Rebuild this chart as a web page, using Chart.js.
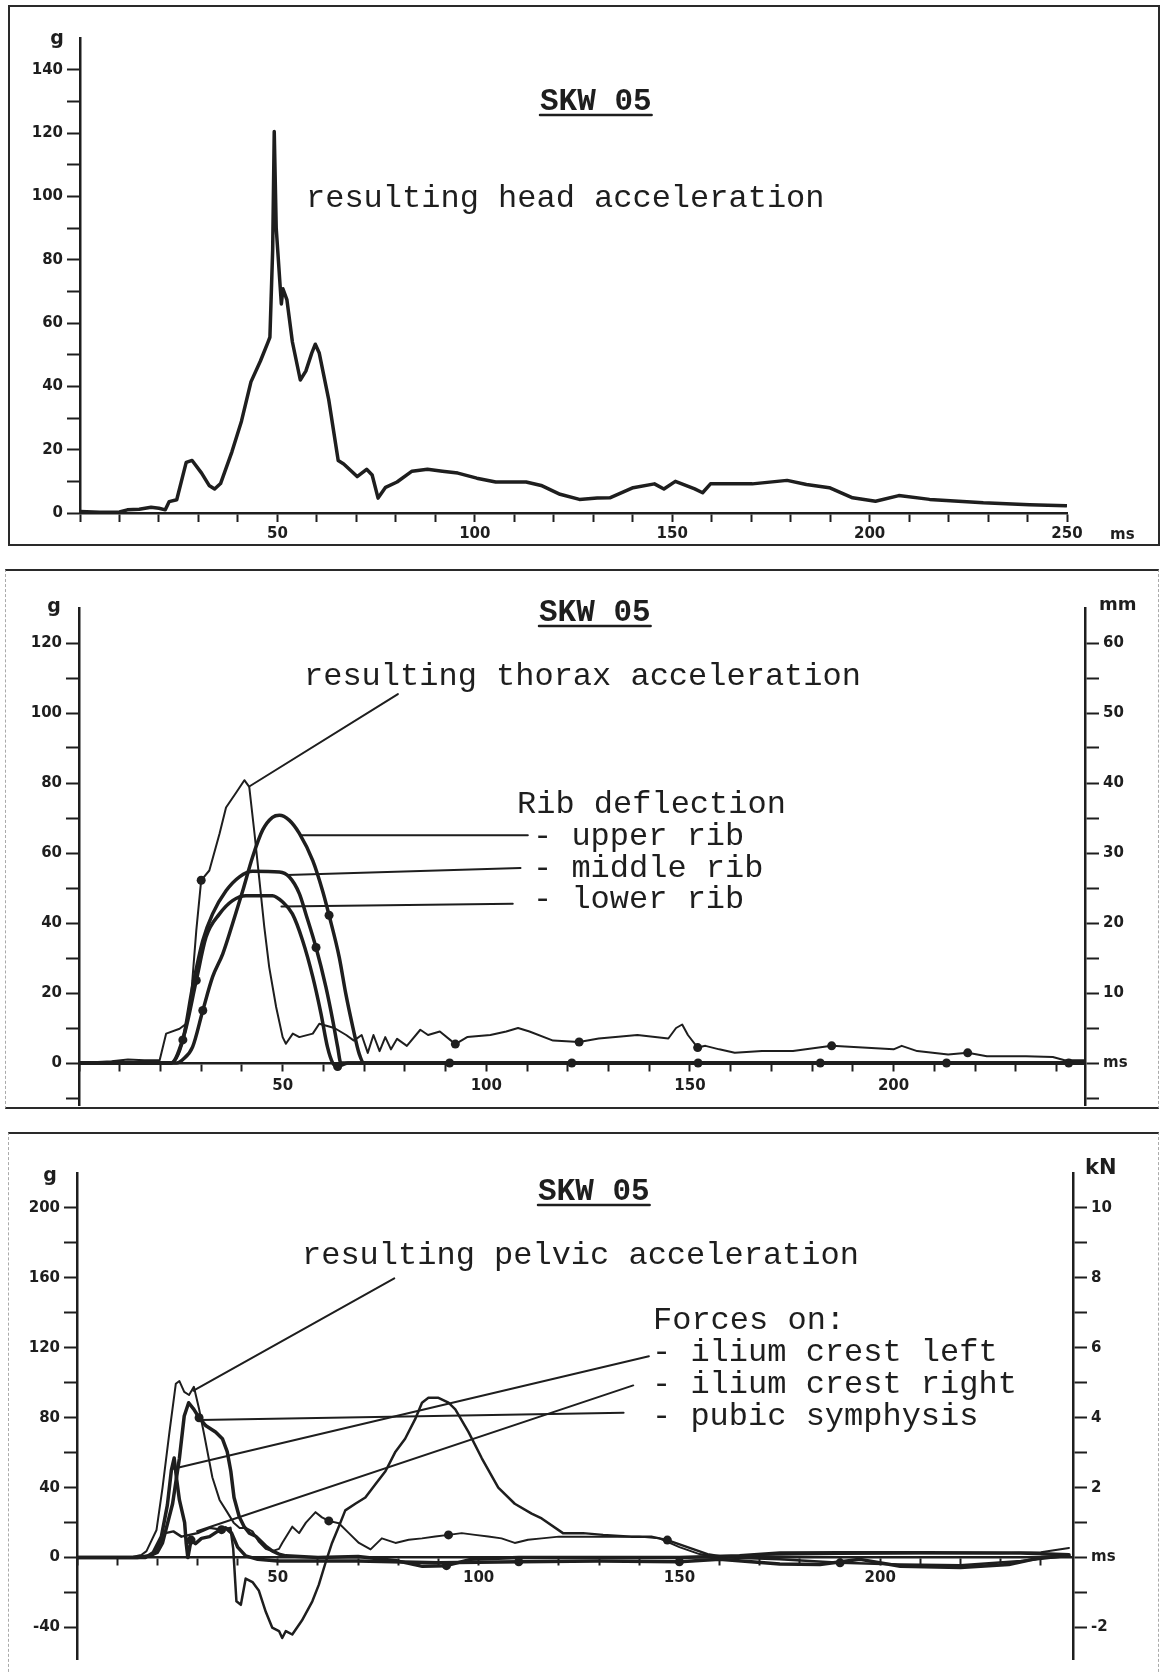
<!DOCTYPE html>
<html>
<head>
<meta charset="utf-8">
<title>SKW 05</title>
<script src="https://cdn.jsdelivr.net/npm/chart.js@4.4.1/dist/chart.umd.min.js"></script>
<style>
  html, body { margin: 0; padding: 0; background: #fff; }
  #page { position: relative; width: 1165px; height: 1672px; overflow: hidden; background: #fff; }
  canvas { position: absolute; left: 0; }
  .frame { position: absolute; box-sizing: border-box; }
</style>
</head>
<body>
<div id="page">
  <div class="frame" style="left:8px;top:5px;width:1152px;height:541px;border:2px solid #2a2a2a;"></div>
  <div class="frame" style="left:5px;top:569px;width:1154px;height:540px;border-top:2px solid #2a2a2a;border-bottom:2px solid #2a2a2a;border-left:1px dashed #aaa;border-right:1px dashed #aaa;"></div>
  <div class="frame" style="left:8px;top:1132px;width:1151px;height:560px;border-top:2px solid #2a2a2a;border-left:1px dashed #aaa;border-right:1px dashed #aaa;"></div>
  <canvas id="head" width="1165" height="560" style="top:0"></canvas>
  <canvas id="thorax" width="1165" height="560" style="top:560px"></canvas>
  <canvas id="pelvis" width="1165" height="552" style="top:1120px"></canvas>
</div>
<script>
// ---- panel 1: resulting head acceleration (ms, g)
var headT = [0, 5, 10, 12, 15, 18, 20, 21.6, 22.6, 24.5, 26.9, 28.4, 30.8, 32.7, 34.1, 35.6, 38.5, 40.9, 43.3, 45.7,
  47.6, 48.1, 48.8, 49.2, 49.7, 51, 51.4, 52.4, 53.8, 55.8, 57.2, 58.7, 59.6, 60.6, 63, 65.4, 66.8, 68.5, 70.2, 72.6,
  74, 75.5, 77.4, 80.3, 84.1, 88, 91.8, 95.7, 100.5, 105.3, 113, 116.8, 121.6, 126.5, 131, 134.2, 140.1, 145.5, 147.9, 150.8,
  155.7, 157.7, 159.7, 170.3, 179.1, 184, 189.8, 195.7, 201.5, 207.4, 215.2, 228.8, 240.5, 249.8];
var headG = [0.5, 0.2, 0.3, 1, 1.2, 1.8, 1.5, 1, 3.6, 4.2, 16, 16.6, 12.6, 8.7, 7.6, 9.3, 19.4, 29, 41.4, 48,
  53.9, 55.5, 83, 120.5, 90, 66, 70.8, 67.4, 54, 42, 44.8, 50.5, 53.3, 50.5, 35.8, 16.6, 15.5, 13.5, 11.5, 13.8,
  12, 4.7, 8.1, 9.8, 13.2, 13.8, 13.2, 12.6, 11, 9.8, 9.8, 8.7, 5.9, 4.3, 4.7, 4.8, 8, 9.2, 7.6, 10,
  7.6, 6.4, 9.2, 9.2, 10.3, 9, 8, 4.8, 3.7, 5.5, 4.3, 3.2, 2.6, 2.3];

// ---- panel 2: resulting thorax acceleration (g) and rib deflection (mm)
var thoraxT = [0, 8, 12, 16, 19.8, 21.4, 24.7, 26.3, 27.5, 28.8, 30, 32, 34.5, 36.1, 38.6, 40.6, 41.8, 43.1, 44.3, 45.5,
  46.7, 48.4, 50, 50.8, 52.5, 54.1, 57.4, 59, 62.7, 65.6, 67.5, 69.4, 70.9, 72.3, 73.8, 75.2, 76.6, 78.1, 80.5, 83.8,
  85.7, 88.6, 92.4, 95.3, 101, 104.9, 107.8, 110.6, 116.4, 122.8, 127.6, 132.4, 137.1, 144.7, 146.6, 148.1, 149.5, 151.9, 153.8, 157.2,
  161, 167.7, 175.3, 184.8, 192.4, 200, 202, 205.8, 213.4, 218.2, 222.9, 232.5, 239.1, 242, 246.7];
var thoraxG = [0, 0.5, 1, 0.8, 0.8, 8.4, 9.8, 11.2, 18.8, 37.9, 52.2, 55, 65.5, 73, 77.3, 80.8, 78.9, 65.5, 52.2, 38.8,
  27.4, 16, 7.4, 5.5, 8.4, 7.4, 8.4, 11.2, 10, 8, 6.4, 8, 2.9, 8, 3.4, 7.4, 3.9, 6.9, 4.9, 9.5,
  8, 9, 5.4, 7.4, 8, 9, 10, 9, 6.4, 6, 7, 7.5, 8, 7, 10, 11, 8, 4.4, 4.9, 3.9,
  2.9, 3.4, 3.4, 4.9, 4.4, 3.9, 4.9, 3.4, 2.4, 2.9, 1.9, 1.9, 1.7, 0.8, 0.8];
var thoraxMarks = [30, 92.4, 122.8, 151.9, 184.8, 218.2];

var upperT = [0, 24, 25.5, 27.9, 30.4, 32.8, 35.3, 37.7, 40.2, 42.6, 45.1, 47.5, 49.2, 51.6, 54.1, 57.4, 59.8, 61.4, 63.9, 65.5,
  67.2, 68.8, 70, 91, 121, 152, 182, 213, 243, 247];
var upperMM = [0, 0, 0.5, 2.3, 7.5, 12.3, 15.6, 19.9, 24.6, 29.4, 33.3, 35.1, 35.4, 34.7, 32.8, 28.9, 24.6, 21.1, 15.1, 9.9,
  5.2, 1.3, 0, 0, 0, 0, 0, 0, 0, 0];
var upperMarks = [30.4, 61.4, 91, 121, 152, 182, 213, 243];

var middleT = [0, 22.6, 25.5, 27.9, 30.4, 32.8, 36.1, 39.4, 42.6, 49.2, 51.6, 54.1, 55.7, 58.2, 60.6, 62.3, 63.5, 64.3, 247];
var middleMM = [0, 0, 3.3, 10.9, 17.5, 21.3, 24.6, 26.6, 27.4, 27.3, 26.6, 24.2, 21.3, 16.5, 10.9, 6.1, 2.3, 0, 0];
var middleMarks = [25.5, 58.2];

var lowerT = [0, 22.6, 25.9, 28.8, 31.2, 34.5, 37.7, 41, 47.5, 50, 52.4, 54.9, 57.4, 59.4, 61, 62.3, 63.5, 66, 247];
var lowerMM = [0, 0, 4.2, 11.8, 18, 21.3, 23.2, 23.9, 23.9, 23, 21.3, 17.5, 12.3, 7.1, 2.3, 0, -0.5, 0, 0];
var lowerMarks = [28.8, 63.5];

// ---- panel 3: resulting pelvic acceleration (g) and forces (kN)
var pelvT = [0, 10, 14, 16, 17.3, 19.8, 21.3, 23, 24.6, 25.5, 26.7, 27.9, 29.1, 30.4, 31.7, 33.7, 35.5, 37.4, 39, 40.5,
  42, 43.7, 45.3, 47, 48.6, 50.3, 51.1, 53.6, 55.3, 57, 59.4, 61, 62.7, 65.2, 67.7, 70.2, 73.1, 75.9, 79.3, 82.6,
  85.9, 89.2, 92.5, 95.8, 99.1, 102.4, 105.7, 109, 112.3, 115.7, 120, 130, 140, 145, 150, 155, 160, 170, 190, 210,
  230, 240, 247];
var pelvG = [0, 0, 0.5, 1.5, 3.7, 15.8, 40, 71.5, 99.4, 101, 94.8, 93, 97.7, 85, 70, 46, 33, 26, 20, 17,
  17, 15, 9, 5, 3.7, 5, 8.4, 17.7, 14, 20, 26, 23, 21, 19.6, 14, 8.4, 4.7, 11, 8.4, 10.2,
  11, 12.1, 13, 14, 13, 12.1, 11, 8.4, 10.2, 11, 12, 12, 12, 11, 6, 2, 0.5, 1.5, 2, 2.5,
  2.5, 3, 5.5];
var pelvMarks = [62.7, 92.5];

var iliumLeftT = [0, 17, 19, 21, 22.5, 23.5, 24.2, 24.8, 25.5, 26.2, 26.8, 27.2, 27.6, 28.4, 29.5, 31, 33, 35, 37, 38.5,
  40, 42, 45, 50, 70, 90, 110, 130, 150, 160, 175, 185, 195, 205, 220, 232, 240, 247];
var iliumLeftKN = [0, 0, 0.15, 0.6, 1.5, 2.5, 2.85, 2.25, 1.65, 1.3, 1, 0.4, 0, 0.5, 0.4, 0.55, 0.6, 0.75, 0.85, 0.7,
  0.3, 0.05, -0.05, -0.1, -0.1, -0.15, -0.12, -0.1, -0.12, -0.05, -0.18, -0.2, -0.05, -0.25, -0.28, -0.2, 0, 0.05];
var iliumLeftMarks = [28.4, 110, 150];

var iliumRightT = [0, 17, 19, 20.5, 22, 24, 26, 28, 30, 33, 36, 38.2, 38.9, 39.7, 40.8, 42, 43.7, 45.3, 47, 48.6,
  50.3, 51.1, 52, 53.6, 56, 58.6, 60.2, 61.9, 63.5, 65.2, 66.8, 69.3, 71.8, 74.3, 76.8, 79.3, 81.7, 84.2, 85.9, 87.5,
  90, 92.5, 94.2, 97.5, 100.8, 104.9, 109, 113.2, 115.7, 121, 126, 131, 138, 143, 147, 152, 157, 162, 175, 190,
  205, 220, 235, 247];
var iliumRightKN = [0, 0, 0.1, 0.4, 0.7, 0.75, 0.6, 0.65, 0.7, 0.85, 0.8, 0.85, 0.25, -1.25, -1.35, -0.6, -0.7, -0.95, -1.55, -2,
  -2.1, -2.3, -2.1, -2.2, -1.8, -1.25, -0.78, -0.14, 0.42, 0.89, 1.35, 1.54, 1.72, 2.1, 2.47, 3.03, 3.4, 3.96, 4.43, 4.57,
  4.57, 4.43, 4.24, 3.59, 2.84, 2, 1.54, 1.26, 1.12, 0.7, 0.7, 0.65, 0.6, 0.6, 0.5, 0.3, 0.1, 0, -0.05, -0.15,
  -0.2, -0.22, -0.1, 0.05];
var iliumRightMarks = [36, 147, 190];

var pubicT = [0, 15, 18, 20, 21.3, 23.8, 25.5, 26.7, 27.8, 29.1, 30.4, 32.1, 34.5, 36.2, 37.4, 38.3, 39.1, 40.4, 41.6, 42.9,
  44.5, 47, 48.6, 50.3, 52, 60, 70, 80, 86, 92, 98, 110, 130, 150, 165, 175, 190, 210, 235, 247];
var pubicKN = [0, 0, 0.05, 0.15, 0.42, 1.54, 2.84, 4.05, 4.43, 4.24, 4, 3.77, 3.59, 3.4, 3.03, 2.47, 1.72, 1.17, 0.89, 0.7,
  0.61, 0.33, 0.19, 0.1, 0.05, 0, 0.03, -0.1, -0.25, -0.23, -0.05, 0, 0, 0, 0.05, 0.13, 0.14, 0.14, 0.13, 0.08];
var pubicMarks = [30.4, 92];

// ---- styling
var INK = '#1e1e1e';
var HIDDEN = 'rgba(0,0,0,0)';
var TICK_FONT = { family: 'DejaVu Sans', size: 15, weight: 'bold' };
var MONO = '"Liberation Mono", "DejaVu Sans Mono", monospace';
var TEXT_FONT = '32px ' + MONO;
var TITLE_FONT = 'bold 31px ' + MONO;
var UNIT_FONT = 'bold 18px "DejaVu Sans"';

// Text and leader lines for each canvas (leaders are [ms, g, ms, g] on the left axis)
var NOTES = {
  head: {
    leaders: [],
    texts: [
      { text: 'g', x: 57, y: 44, font: 'bold 19px "DejaVu Sans"', align: 'center' },
      { text: 'SKW 05', x: 540, y: 110, font: TITLE_FONT, underline: true },
      { text: 'resulting head acceleration', x: 306, y: 207, font: TEXT_FONT },
      { text: 'ms', x: 1110, y: 539, font: 'bold 15px "DejaVu Sans"' }
    ]
  },
  thorax: {
    leaders: [[41.8, 79, 78.3, 105.4], [54.3, 65.1, 110.2, 65.1], [51.1, 53.7, 108.4, 55.7], [49.7, 44.7, 106.5, 45.5]],
    texts: [
      { text: 'g', x: 54, y: 52, font: 'bold 19px "DejaVu Sans"', align: 'center' },
      { text: 'mm', x: 1099, y: 50, font: UNIT_FONT },
      { text: 'SKW 05', x: 539, y: 61, font: TITLE_FONT, underline: true },
      { text: 'resulting thorax acceleration', x: 304, y: 125, font: TEXT_FONT },
      { text: 'Rib deflection', x: 517, y: 253, font: TEXT_FONT },
      { text: '- upper rib', x: 533, y: 285, font: TEXT_FONT },
      { text: '- middle rib', x: 533, y: 317, font: TEXT_FONT },
      { text: '- lower rib', x: 533, y: 348, font: TEXT_FONT }
    ]
  },
  pelvis: {
    leaders: [[29, 95.5, 79, 159.7], [30.6, 78.7, 136.1, 82.8], [24, 50.8, 142.4, 115.2], [29.9, 15.1, 138.5, 98.5]],
    texts: [
      { text: 'g', x: 50, y: 61, font: 'bold 19px "DejaVu Sans"', align: 'center' },
      { text: 'kN', x: 1085, y: 54, font: 'bold 21px "DejaVu Sans"' },
      { text: 'SKW 05', x: 538, y: 80, font: TITLE_FONT, underline: true },
      { text: 'resulting pelvic acceleration', x: 302, y: 144, font: TEXT_FONT },
      { text: 'Forces on:', x: 653, y: 209, font: TEXT_FONT },
      { text: '- ilium crest left', x: 652, y: 241, font: TEXT_FONT },
      { text: '- ilium crest right', x: 652, y: 273, font: TEXT_FONT },
      { text: '- pubic symphysis', x: 652, y: 305, font: TEXT_FONT }
    ]
  }
};

// Plugin that writes the captions and draws the leader lines
var notesPlugin = {
  id: 'notes',
  afterDatasetsDraw: function (chart) {
    var note = NOTES[chart.canvas.id];
    if (!note) return;
    var ctx = chart.ctx;
    var xs = chart.scales.x;
    var ys = chart.scales.y;
    ctx.save();
    ctx.strokeStyle = INK;
    ctx.fillStyle = INK;
    ctx.lineCap = 'round';
    ctx.lineWidth = 2;
    note.leaders.forEach(function (l) {
      ctx.beginPath();
      ctx.moveTo(xs.getPixelForValue(l[0]), ys.getPixelForValue(l[1]));
      ctx.lineTo(xs.getPixelForValue(l[2]), ys.getPixelForValue(l[3]));
      ctx.stroke();
    });
    ctx.textBaseline = 'alphabetic';
    note.texts.forEach(function (t) {
      ctx.font = t.font;
      ctx.textAlign = t.align || 'left';
      ctx.fillText(t.text, t.x, t.y);
      if (t.underline) {
        var w = ctx.measureText(t.text).width;
        ctx.lineWidth = 2.5;
        ctx.beginPath();
        ctx.moveTo(t.x, t.y + 5);
        ctx.lineTo(t.x + w, t.y + 5);
        ctx.stroke();
      }
    });
    ctx.restore();
  }
};
Chart.register(notesPlugin);

// Turn two arrays into {x, y} points
function series(times, values) {
  var pts = [];
  for (var i = 0; i < times.length; i++) {
    pts.push({ x: times[i], y: values[i] });
  }
  return pts;
}

// Show a dot only on the points listed in marks
function marker(marks, r) {
  return function (ctx) {
    return ctx.raw && marks.indexOf(ctx.raw.x) >= 0 ? r : 0;
  };
}

function curve(times, values, width, axis, marks, smooth) {
  return {
    data: series(times, values),
    borderColor: INK,
    backgroundColor: INK,
    borderWidth: width,
    yAxisID: axis,
    fill: false,
    pointRadius: marker(marks || [], 4.5),
    pointHoverRadius: 0,
    pointBorderWidth: 0,
    cubicInterpolationMode: smooth ? 'monotone' : 'default'
  };
}

// Labels only on multiples of `every`, within [lo, hi]; zeroText replaces the 0 label
function labeller(every, lo, hi, zeroText) {
  return function (value) {
    var v = Math.round(value * 1000) / 1000;
    if (v === 0 && zeroText !== undefined) return zeroText;
    if (v < lo || v > hi) return '';
    return Math.abs(v % every) < 1e-6 ? String(v) : '';
  };
}

function tickColor(maxShown) {
  return function (ctx) {
    return ctx.tick && ctx.tick.value > maxShown + 1e-6 ? HIDDEN : INK;
  };
}

function axis(o) {
  var a = {
    type: 'linear',
    position: o.position,
    min: o.min,
    max: o.max,
    border: { display: true, color: INK, width: 2.5 },
    grid: { drawOnChartArea: false, drawTicks: true, tickLength: o.tickLength, tickWidth: 2, tickColor: tickColor(o.top) },
    ticks: { stepSize: o.step, autoSkip: false, includeBounds: false, maxRotation: 0, padding: o.padding, color: INK, font: TICK_FONT, callback: o.label }
  };
  if (o.width) a.afterFit = function (s) { s.width = o.width; };
  if (o.height) a.afterFit = function (s) { s.height = o.height; };
  return a;
}

function options(padding, scales) {
  return {
    responsive: false,
    animation: false,
    devicePixelRatio: 1,
    layout: { padding: padding },
    plugins: { legend: { display: false }, tooltip: { enabled: false } },
    elements: { line: { tension: 0, borderJoinStyle: 'round', borderCapStyle: 'round' } },
    scales: scales
  };
}

// Panel 1: head
new Chart(document.getElementById('head').getContext('2d'), {
  type: 'line',
  data: { datasets: [curve(headT, headG, 3.5, 'y')] },
  options: options({ left: 0, right: 98, top: 38, bottom: 0 }, {
    x: axis({ position: 'bottom', min: 0, max: 250, step: 10, top: 250, tickLength: 9, padding: 3, height: 47, label: labeller(50, 50, 250) }),
    y: axis({ position: 'left', min: 0, max: 150, step: 10, top: 140, tickLength: 13, padding: 4, width: 80, label: labeller(20, 0, 140) })
  })
});

// Panel 2: thorax and ribs
new Chart(document.getElementById('thorax').getContext('2d'), {
  type: 'line',
  data: {
    datasets: [
      curve(thoraxT, thoraxG, 2, 'y', thoraxMarks),
      curve(upperT, upperMM, 3.5, 'y2', upperMarks, true),
      curve(middleT, middleMM, 3.5, 'y2', middleMarks, true),
      curve(lowerT, lowerMM, 3.5, 'y2', lowerMarks, true)
    ]
  },
  options: options({ left: 0, right: 0, top: 48, bottom: 15 }, {
    x: axis({ position: { y: 0 }, min: 0, max: 247, step: 10, top: 247, tickLength: 7, padding: 7, label: labeller(50, 50, 200) }),
    y: axis({ position: 'left', min: -12, max: 130, step: 10, top: 120, tickLength: 13, padding: 4, width: 79, label: labeller(20, 0, 120) }),
    y2: axis({ position: 'right', min: -6, max: 65, step: 5, top: 60, tickLength: 14, padding: 4, width: 80, label: labeller(10, 10, 60, 'ms') })
  })
});

// Panel 3: pelvis and forces
new Chart(document.getElementById('pelvis').getContext('2d'), {
  type: 'line',
  data: {
    datasets: [
      curve(pelvT, pelvG, 2, 'y', pelvMarks),
      curve(iliumLeftT, iliumLeftKN, 3.5, 'y2', iliumLeftMarks),
      curve(iliumRightT, iliumRightKN, 2.5, 'y2', iliumRightMarks),
      curve(pubicT, pubicKN, 3.5, 'y2', pubicMarks)
    ]
  },
  options: options({ left: 0, right: 0, top: 53, bottom: 0 }, {
    x: axis({ position: { y: 0 }, min: 0, max: 248, step: 10, top: 248, tickLength: 7, padding: 5, label: labeller(50, 50, 200) }),
    y: axis({ position: 'left', min: -58, max: 220, step: 20, top: 200, tickLength: 13, padding: 4, width: 77, label: labeller(40, -40, 200) }),
    y2: axis({ position: 'right', min: -2.9, max: 11, step: 1, top: 10, tickLength: 14, padding: 4, width: 92, label: labeller(2, -2, 10, 'ms') })
  })
});
</script>
</body>
</html>
